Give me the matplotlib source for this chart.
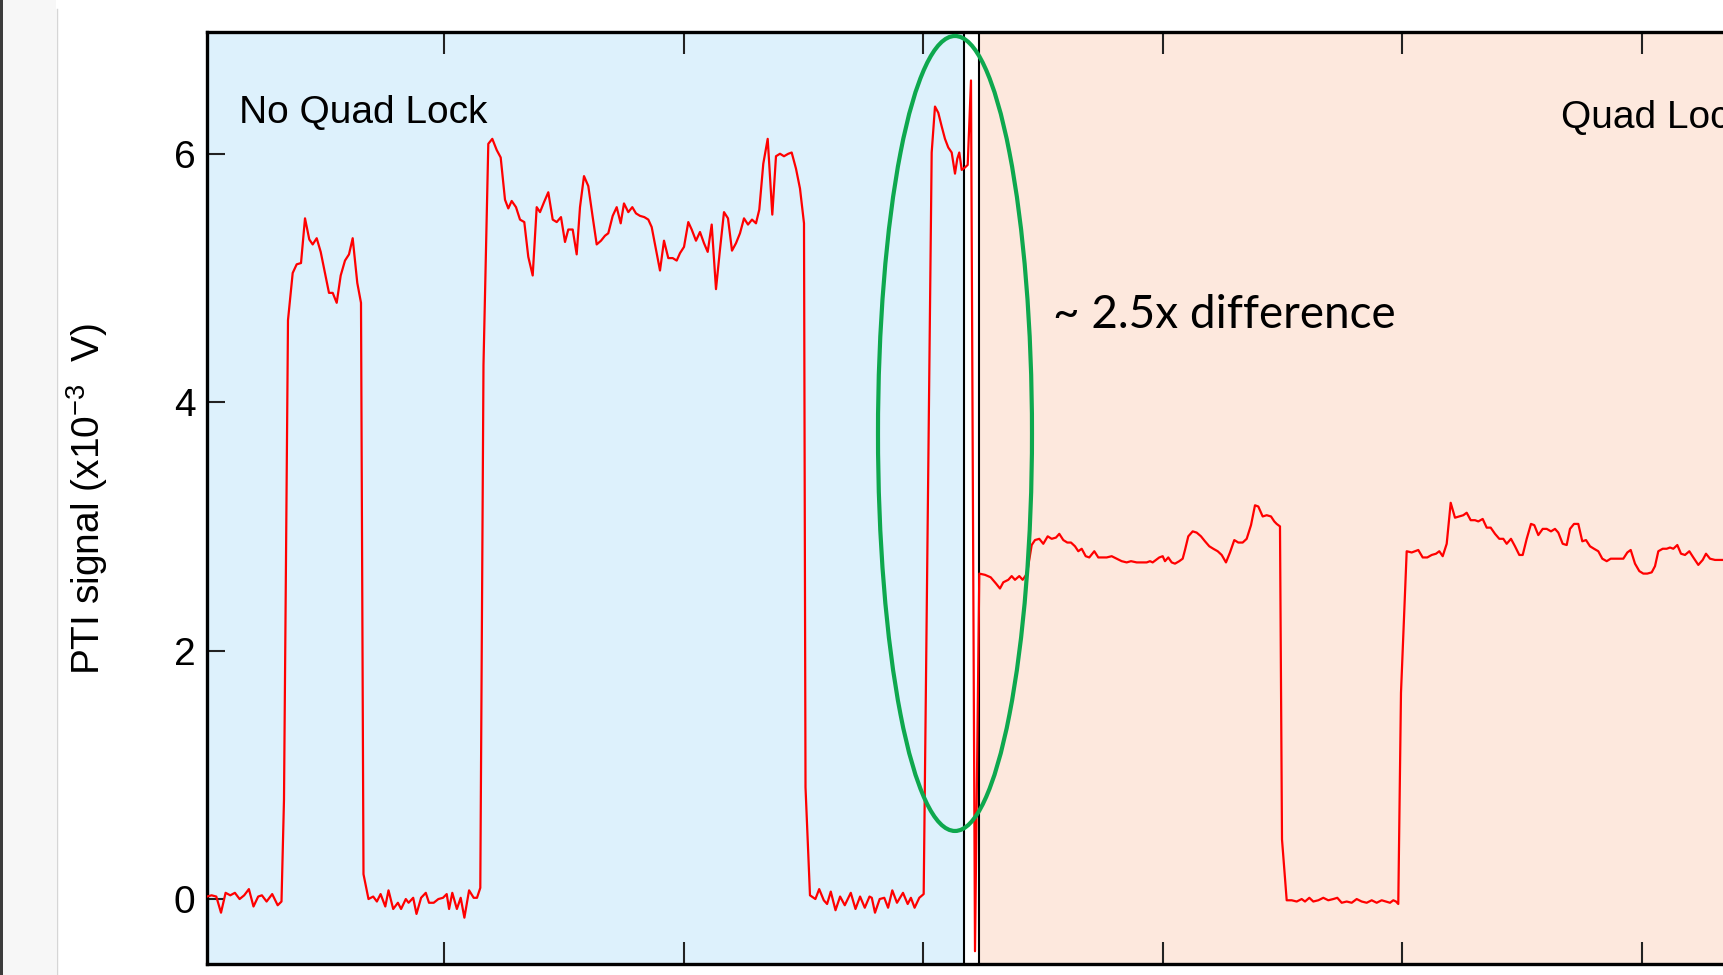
import matplotlib
matplotlib.use('Agg')
import matplotlib.pyplot as plt
from matplotlib.patches import Ellipse, Rectangle
from matplotlib.lines import Line2D

plt.rcParams['font.family'] = ['Liberation Sans', 'DejaVu Sans']
plt.rcParams['mathtext.fontset'] = 'custom'
plt.rcParams['mathtext.rm'] = 'Liberation Sans'
plt.rcParams['mathtext.it'] = 'Liberation Sans:italic'
plt.rcParams['mathtext.bf'] = 'Liberation Sans:bold'

# ---------------- data (time in s, PTI signal in 1e-3 V) ----------------
time_s = [
    1.09, 3.00, 4.97, 6.93, 8.85, 10.81, 12.73, 14.69, 16.61, 18.57, 20.49, 22.45,
    24.00, 25.96, 28.30, 30.59, 32.18,
    33.22, 34.89, 36.85, 38.52, 40.32, 41.99, 43.78, 45.20, 46.87, 48.54, 50.33,
    52.00, 53.55, 55.22, 56.89, 58.68, 60.35, 61.89, 63.81, 65.36, 66.40,
    68.49, 70.45, 71.99, 73.54, 75.50, 76.84, 78.80, 80.76, 82.09, 84.06, 85.22,
    87.14, 88.52, 90.44, 92.40, 93.74, 95.70, 97.66, 99.58, 101.13, 102.13,
    103.46, 105.38, 106.97, 108.51, 110.47, 112.39, 113.77, 115.15,
    116.48, 118.49, 120.16, 122.00, 123.66, 125.46, 126.84, 128.25, 130.05,
    131.72, 133.51, 135.18, 137.02, 138.69, 140.07, 141.74, 143.53, 145.37,
    147.04, 148.83, 150.50, 151.88, 153.71, 155.38, 156.76, 158.43, 160.22,
    162.06, 163.73, 165.53, 167.19, 168.57, 170.41, 172.08, 173.75, 175.12,
    176.92, 178.59, 180.13, 181.80, 183.60, 185.27, 186.68, 188.48, 190.15,
    191.82, 193.61, 195.45, 197.12, 198.50, 200.17, 201.96, 203.38, 205.17,
    206.84, 208.51, 210.06, 211.73, 213.52, 215.19, 216.86, 218.53, 220.20,
    221.87, 223.54, 225.21, 226.88, 228.55, 230.21, 231.59, 233.26, 235.10,
    237.02, 238.56, 240.23, 241.90, 243.70, 245.11, 246.91, 248.58, 250.25,
    250.88,
    252.75, 255.01, 256.59, 258.51, 259.89, 261.43, 263.40, 265.32, 267.27,
    269.78, 271.74, 273.66, 275.62, 277.59, 278.55, 279.88, 281.84, 283.76,
    285.35, 287.10, 289.06, 291.57, 293.53, 294.87, 296.41, 298.37, 300.20,
    303.54, 304.92, 306.30, 307.72, 309.09, 310.47, 311.89, 313.27, 314.23,
    315.06, 316.07, 317.44, 318.57, 319.95, 321.62, 323.41,
    325.79, 328.17, 330.38, 332.05, 333.43, 335.52, 336.93, 338.31, 340.10,
    341.52, 343.32, 345.28, 346.66, 348.45, 350.12, 351.96, 353.63, 355.42,
    356.80, 358.47, 360.14, 361.68, 363.35, 364.73, 366.15, 367.82, 369.32,
    371.41, 373.08, 374.92, 376.58, 378.67, 380.76, 382.84, 384.93, 386.73,
    389.11, 391.19, 393.28, 394.66, 395.78, 397.16, 398.54, 399.96, 400.91,
    402.29, 403.71, 405.09, 406.88, 408.30, 409.26, 410.64, 412.47, 414.14,
    415.94, 417.61, 419.40, 421.07, 422.91, 424.58, 426.37, 428.04, 429.84,
    431.51, 433.34, 435.01, 436.81, 438.48, 439.86, 441.69, 443.36, 445.16,
    446.53, 447.53, 448.91, 449.75,
    451.71, 453.80, 455.89, 457.97, 459.35, 461.15, 462.81, 464.90, 466.99,
    469.07, 471.16, 472.83, 474.67, 476.75, 478.84, 480.93, 483.01, 485.10,
    487.19, 489.27, 491.36, 493.16, 494.83, 496.20, 497.33, 498.28,
    499.41, 501.79, 503.88, 505.26, 506.63, 508.47, 510.39, 512.23, 514.02,
    515.40, 516.82, 518.49, 520.16, 521.95, 523.75, 525.42, 526.83, 528.50,
    530.30, 531.68, 533.51, 535.18, 536.85, 538.65, 540.44, 542.11, 543.53,
    545.32, 546.99, 548.79, 550.21, 551.88, 553.67, 555.05, 556.72, 558.56,
    560.23, 562.02, 563.69, 565.07, 566.90, 568.57, 569.95, 571.62, 573.41,
    575.08, 576.63, 578.30, 579.97, 581.76, 583.43, 585.27, 586.94, 588.73,
    590.53, 592.20, 593.87, 595.29, 597.08, 598.88, 600.55, 602.21, 604.05,
    605.43, 606.81, 608.64, 610.31, 611.69, 613.07, 614.74, 616.28, 617.95,
    619.75, 621.42, 623.50, 625.34, 626.71, 628.38, 630.47, 632.56, 634.64,
    636.72,
]

signal = [
    0.02, 0.03, 0.02, -0.11, 0.05, 0.03, 0.05, 0.00, 0.03, 0.08, -0.06, 0.02,
    0.03, -0.02, 0.04, -0.05, -0.02,
    0.80, 4.66, 5.04, 5.11, 5.12, 5.48, 5.31, 5.27, 5.32, 5.21, 5.04,
    4.88, 4.88, 4.80, 5.02, 5.14, 5.19, 5.32, 4.96, 4.80, 0.20,
    0.00, 0.02, -0.02, 0.04, -0.06, 0.07, -0.08, -0.03, -0.08, 0.00, -0.03,
    0.01, -0.12, 0.01, 0.05, -0.03, -0.03, 0.00, 0.01, 0.04, -0.08,
    0.05, -0.08, 0.01, -0.15, 0.07, 0.01, 0.01, 0.09,
    4.30, 6.08, 6.12, 6.03, 5.97, 5.63, 5.56, 5.62, 5.57,
    5.47, 5.45, 5.17, 5.02, 5.57, 5.53, 5.61, 5.69, 5.47,
    5.45, 5.49, 5.29, 5.39, 5.39, 5.19, 5.57, 5.82, 5.74,
    5.49, 5.27, 5.30, 5.34, 5.36, 5.50, 5.57, 5.44, 5.60,
    5.53, 5.57, 5.52, 5.50, 5.49, 5.47, 5.41, 5.23, 5.06,
    5.30, 5.16, 5.16, 5.14, 5.20, 5.25, 5.45, 5.39, 5.30,
    5.37, 5.28, 5.21, 5.43, 4.91, 5.23, 5.53, 5.48, 5.22,
    5.28, 5.36, 5.48, 5.43, 5.47, 5.44, 5.55, 5.92, 6.12,
    5.51, 5.98, 6.00, 5.98, 6.00, 6.01, 5.88, 5.72, 5.44,
    0.90,
    0.03, 0.00, 0.08, -0.01, -0.04, 0.06, -0.09, 0.02, -0.05,
    0.05, -0.08, 0.02, -0.07, 0.02, 0.01, -0.11, 0.00, 0.01,
    -0.07, 0.07, -0.03, 0.05, -0.04, 0.01, -0.07, 0.01, 0.04,
    6.01, 6.38, 6.33, 6.22, 6.12, 6.05, 6.01, 5.84, 5.96,
    6.01, 5.87, 5.89, 5.91, 6.59, -0.42, 2.62,
    2.61, 2.59, 2.54, 2.50, 2.55, 2.57, 2.60, 2.57, 2.60,
    2.57, 2.62, 2.85, 2.89, 2.90, 2.86, 2.92, 2.90, 2.91,
    2.94, 2.89, 2.87, 2.87, 2.84, 2.80, 2.82, 2.76, 2.75,
    2.80, 2.75, 2.75, 2.75, 2.76, 2.74, 2.72, 2.71, 2.72,
    2.71, 2.71, 2.71, 2.72, 2.71, 2.73, 2.75, 2.76, 2.72,
    2.75, 2.71, 2.70, 2.72, 2.74, 2.81, 2.92, 2.96, 2.95,
    2.92, 2.88, 2.84, 2.82, 2.80, 2.77, 2.71, 2.79, 2.89,
    2.87, 2.87, 2.90, 3.01, 3.17, 3.16, 3.08, 3.09, 3.08,
    3.04, 3.02, 3.00, 0.48,
    -0.01, -0.01, -0.02, 0.00, -0.02, 0.01, -0.02, -0.01, 0.01,
    -0.01, 0.00, 0.01, -0.03, -0.02, -0.03, 0.00, -0.02, -0.03,
    -0.01, -0.03, -0.01, -0.02, -0.03, -0.01, -0.02, -0.04,
    1.66, 2.80, 2.79, 2.80, 2.81, 2.75, 2.75, 2.77, 2.78,
    2.80, 2.76, 2.86, 3.19, 3.07, 3.08, 3.09, 3.11, 3.05,
    3.05, 3.04, 3.06, 2.99, 2.99, 2.94, 2.90, 2.90, 2.86,
    2.90, 2.84, 2.77, 2.77, 2.90, 3.02, 3.01, 2.93, 2.98,
    2.98, 2.96, 2.98, 2.95, 2.86, 2.85, 2.98, 3.02, 3.02,
    2.88, 2.89, 2.84, 2.82, 2.80, 2.74, 2.72, 2.74, 2.74,
    2.74, 2.74, 2.79, 2.81, 2.70, 2.64, 2.62, 2.62, 2.63,
    2.68, 2.80, 2.82, 2.82, 2.83, 2.82, 2.85, 2.78, 2.77,
    2.80, 2.75, 2.69, 2.73, 2.78, 2.74, 2.73, 2.73, 2.73,
    2.74,
]

x_ticks = [100, 200, 300, 400, 500, 600, 700]
y_ticks = [0, 2, 4, 6]
y_tick_labels = ['0', '2', '4', '6']
x_limits = (0.92, 750)
y_limits = (-0.523, 6.981)

no_lock_span = (0.92, 316.94)
lock_span = (323.37, 750)
switch_marks = [316.94, 323.37]
region_labels = ['No Quad Lock', 'Quad Lock']
region_label_pos = [(14.4, 6.25), (566.0, 6.205)]
annotation_text = '~ 2.5x difference'
annotation_pos = (354.0, 4.60)
highlight_center = (313.27, 3.748)
highlight_width = 64.27
highlight_height = 6.40
y_label = 'PTI signal (x10$^{-3}$  V)'

# ---------------- figure ----------------
W, H = 1723, 975
fig = plt.figure(figsize=(W / 100, H / 100), dpi=100)
fig.patch.set_facecolor('white')

# screenshot frame at the far left
fig.patches.append(Rectangle((3 / W, 0), 53 / W, 1, transform=fig.transFigure,
                             facecolor='#F7F7F7', edgecolor='none', zorder=0))
fig.patches.append(Rectangle((0, 0), 3 / W, 1, transform=fig.transFigure,
                             facecolor='#3C3C3C', edgecolor='none', zorder=1))
fig.lines.append(Line2D([56.5 / W, 56.5 / W], [0, 1 - 9 / H], transform=fig.transFigure,
                        color='#D6D6D6', lw=1.0))

ax = fig.add_axes([206.6 / W, 11 / H, (2001.4 - 206.6) / W, (964 - 31.9) / H])
ax.set_facecolor('white')

ax.axvspan(*no_lock_span, facecolor='#DDF1FC', edgecolor='none', zorder=0)
ax.axvspan(*lock_span, facecolor='#FDE8DD', edgecolor='none', zorder=0)
for xm in switch_marks:
    ax.axvline(xm, color='black', lw=1.5, zorder=2)

ax.plot(time_s, signal, color='#FF0000', lw=1.6, zorder=3, solid_joinstyle='round')

ax.add_patch(Ellipse(highlight_center, highlight_width, highlight_height,
                     fill=False, edgecolor='#0EA84E', lw=3.0, zorder=4))

for lab, (tx, ty) in zip(region_labels, region_label_pos):
    ax.text(tx, ty, lab, fontsize=28, ha='left', va='baseline', color='black', zorder=5)

ax.text(annotation_pos[0], annotation_pos[1], annotation_text, fontsize=33,
        family=['Lato', 'DejaVu Sans'], ha='left', va='baseline', color='black', zorder=5)

ax.set_xlim(*x_limits)
ax.set_ylim(*y_limits)
ax.set_xticks(x_ticks)
ax.set_yticks(y_ticks)
ax.set_yticklabels(y_tick_labels)

for s in ax.spines.values():
    s.set_linewidth(2.4)
    s.set_color('black')

ax.tick_params(axis='x', which='both', direction='in', top=True, bottom=True,
               labelbottom=False, labeltop=False, length=15.6, width=1.5, color='#222222')
ax.tick_params(axis='y', direction='in', left=True, right=False, length=13, width=1.5,
               labelsize=28, pad=8, color='#222222')

ax.set_ylabel(y_label, fontsize=28)
ax.yaxis.label.set_rotation_mode('default')
ax.yaxis.label.set_va('center')
ax.yaxis.label.set_ha('center')
ax.yaxis.set_label_coords(87 / W, 1 - 499 / H, transform=fig.transFigure)

fig.savefig('out.png', dpi=100)
